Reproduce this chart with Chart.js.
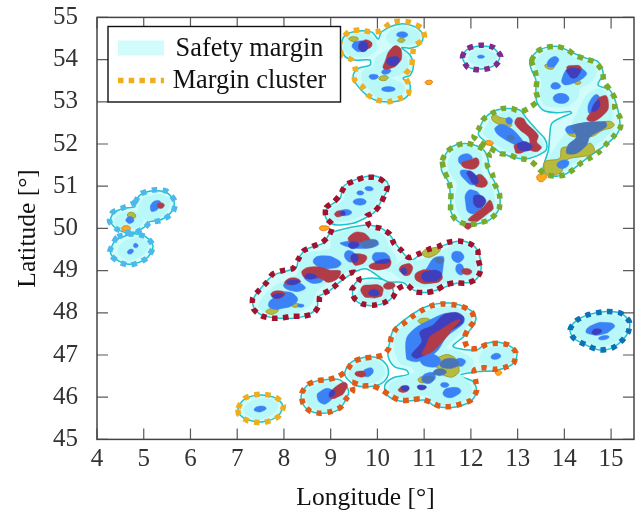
<!DOCTYPE html>
<html>
<head>
<meta charset="utf-8">
<style>html,body{margin:0;background:#fff}canvas{display:block}</style>
<script src="https://cdn.jsdelivr.net/npm/chart.js@4/dist/chart.umd.min.js"></script>
</head>
<body>
<canvas id="mapChart" width="636" height="515"></canvas>
<script>
// all shapes are [longitude, latitude]
var xTicks = [4, 5, 6, 7, 8, 9, 10, 11, 12, 13, 14, 15];
var yTicks = [45, 46, 47, 48, 49, 50, 51, 52, 53, 54, 55];
var legendLabels = ['Safety margin', 'Margin cluster'];

var safetyOutlines = [
  [[4.81,50.59],[4.92,50.79],[5.2,50.89],[5.49,50.85],[5.65,50.63],[5.6,50.4],[5.38,50.21],[5.13,50.16],[5.03,50.04],[4.78,49.9],[4.46,49.96],[4.29,50.16],[4.35,50.36],[4.56,50.47],[4.81,50.51]],
  [[4.46,49.76],[4.78,49.87],[5.06,49.79],[5.2,49.57],[5.06,49.29],[4.71,49.15],[4.46,49.23],[4.29,49.41],[4.35,49.65]],
  [[9.22,54.31],[9.31,54.58],[9.59,54.68],[9.88,54.65],[10.02,54.49],[10.09,54.66],[10.45,54.84],[10.8,54.78],[10.98,54.58],[10.91,54.36],[10.7,54.27],[10.52,54.28],[10.7,54.11],[10.77,53.87],[10.7,53.63],[10.55,53.56],[10.7,53.4],[10.66,53.16],[10.45,53.02],[10.02,53.02],[9.77,53.16],[9.56,53.4],[9.48,53.63],[9.59,53.79],[9.84,53.87],[9.84,53.99],[9.52,53.99],[9.31,54.07]],
  [[11.82,54.05],[11.91,54.23],[12.19,54.32],[12.48,54.27],[12.62,54.07],[12.51,53.87],[12.23,53.78],[11.94,53.83]],
  [[13.26,53.95],[13.41,54.19],[13.62,54.29],[13.87,54.31],[14.12,54.19],[14.48,54.03],[14.72,53.95],[14.83,53.67],[14.72,53.4],[14.97,53.28],[15.12,52.92],[15.19,52.41],[15.08,52.17],[14.83,51.94],[14.48,51.66],[14.05,51.3],[13.76,51.24],[13.55,51.38],[13.58,51.58],[13.66,51.86],[13.69,52.25],[13.73,52.49],[13.94,52.63],[14.15,52.73],[14.12,52.77],[13.83,52.74],[13.55,52.8],[13.41,53],[13.39,53.24],[13.39,53.52],[13.3,53.75]],
  [[12.16,52.25],[12.27,52.57],[12.48,52.77],[12.76,52.84],[13.05,52.8],[13.19,52.61],[13.41,52.33],[13.58,52.13],[13.63,51.94],[13.58,51.82],[13.26,51.66],[13.01,51.66],[12.66,51.78],[12.41,51.98],[12.19,52.17]],
  [[11.41,51.62],[11.52,51.86],[11.69,51.98],[11.98,52],[12.27,51.86],[12.37,51.62],[12.37,51.38],[12.52,51.07],[12.62,50.75],[12.59,50.44],[12.4,50.2],[12.12,50.1],[11.91,50.06],[11.69,50.2],[11.57,50.4],[11.57,50.67],[11.52,51.1],[11.37,51.38]],
  [[8.88,50.36],[8.95,50.51],[9.2,50.71],[9.27,50.99],[9.52,51.15],[9.91,51.25],[10.2,51.11],[10.23,50.95],[10.09,50.67],[9.95,50.4],[9.73,50.24],[9.48,50.12],[9.13,50.08],[8.95,50.16]],
  [[8.99,49.88],[9.41,50.02],[9.81,50.08],[10.09,50],[10.27,49.84],[10.41,49.61],[10.59,49.37],[10.73,49.25],[10.95,49.41],[11.34,49.57],[11.77,49.7],[12.05,49.6],[12.18,49.37],[12.21,48.97],[12.05,48.74],[11.69,48.7],[11.27,48.54],[10.98,48.48],[10.7,48.58],[10.55,48.72],[10.2,48.74],[9.77,49.04],[9.52,48.97],[9.16,48.7],[8.95,48.5],[8.74,48.38],[8.7,48.1],[8.41,47.91],[7.95,47.87],[7.52,47.95],[7.35,48.14],[7.35,48.34],[7.49,48.56],[7.77,48.89],[8.06,48.99],[8.27,49.09],[8.31,49.29],[8.49,49.51],[8.84,49.65]],
  [[9.48,48.58],[9.56,48.74],[9.81,48.82],[10.13,48.78],[10.3,48.62],[10.34,48.42],[10.2,48.26],[9.91,48.17],[9.63,48.22],[9.48,48.38]],
  [[7.02,45.74],[7.17,45.96],[7.49,46.05],[7.81,45.99],[7.97,45.81],[7.88,45.56],[7.56,45.42],[7.24,45.46],[7.06,45.58]],
  [[8.38,46.09],[8.56,46.33],[8.84,46.41],[9.2,46.41],[9.38,46.17],[9.34,45.97],[9.16,45.7],[8.84,45.62],[8.56,45.67],[8.4,45.85]],
  [[9.3,46.53],[9.41,46.8],[9.7,46.94],[9.98,46.94],[10.2,46.76],[10.23,46.53],[10.09,46.33],[9.8,46.25],[9.52,46.29]],
  [[10.25,47.24],[10.34,47.59],[10.62,47.87],[11.05,48.15],[11.55,48.23],[11.98,48.07],[12.11,47.87],[12.01,47.63],[11.84,47.43],[11.62,47.2],[12.12,47.12],[12.34,47.28],[12.69,47.28],[12.98,47.08],[12.91,46.8],[12.55,46.64],[12.12,46.6],[11.76,46.51],[12.05,46.37],[12.12,46.13],[11.98,45.89],[11.55,45.75],[11.19,45.81],[11.05,45.93],[10.48,45.91],[10.2,46.05],[10.16,46.29],[10.34,46.46],[10.66,46.54],[10.62,46.64],[10.37,46.72],[10.23,46.96]],
  [[14.12,47.59],[14.25,47.81],[14.53,47.96],[14.89,48.03],[15.21,47.99],[15.39,47.79],[15.37,47.55],[15.25,47.36],[15.03,47.17],[14.75,47.12],[14.46,47.24],[14.21,47.39]]
];

var innerMargins = [
  [[4.92,50.59],[5.2,50.79],[5.49,50.75],[5.56,50.59],[5.45,50.36],[5.2,50.21],[4.96,50.28]],
  [[4.42,50.28],[4.67,50.4],[4.92,50.36],[4.99,50.16],[4.78,50],[4.53,50],[4.38,50.12]],
  [[4.46,49.53],[4.74,49.76],[5.03,49.72],[5.08,49.53],[4.85,49.29],[4.56,49.29]],
  [[9.27,54.35],[9.45,54.57],[9.8,54.58],[9.98,54.39],[9.91,54.15],[9.59,54.07],[9.34,54.15]],
  [[10.2,54.58],[10.45,54.76],[10.77,54.72],[10.91,54.54],[10.8,54.38],[10.52,54.36],[10.27,54.39]],
  [[9.95,54.03],[10.23,54.23],[10.52,54.19],[10.66,53.91],[10.55,53.67],[10.3,53.56],[10.52,53.44],[10.59,53.28],[10.38,53.08],[10.02,53.08],[9.84,53.28],[9.66,53.52],[9.7,53.75],[9.91,53.83]],
  [[11.94,54.05],[12.19,54.24],[12.48,54.16],[12.55,54.05],[12.41,53.91],[12.12,53.87]],
  [[13.37,53.95],[13.62,54.21],[13.94,54.21],[14.26,54.03],[14.62,53.87],[14.69,53.67],[14.55,53.44],[14.33,53.32],[14.3,53.12],[14.12,52.92],[13.87,52.87],[13.58,52.92],[13.48,53.16],[13.51,53.48],[13.41,53.71]],
  [[14.3,52.8],[14.48,53.16],[14.76,53.32],[14.97,53.08],[15.03,52.57],[15.03,52.33],[14.69,51.98],[14.33,51.66],[13.98,51.34],[13.73,51.34],[13.62,51.54],[13.8,51.9],[14.12,52.41]],
  [[12.27,52.25],[12.44,52.61],[12.76,52.77],[13.05,52.73],[13.26,52.41],[13.51,52.09],[13.55,51.94],[13.33,51.74],[13.01,51.71],[12.66,51.9],[12.41,52.09]],
  [[11.52,51.62],[11.69,51.9],[11.98,51.94],[12.23,51.74],[12.23,51.38],[12.44,50.99],[12.51,50.59],[12.34,50.28],[11.95,50.14],[11.76,50.3],[11.66,50.67],[11.7,51.07],[11.52,51.38]],
  [[8.99,50.44],[9.27,50.67],[9.34,50.95],[9.7,51.11],[10.13,51.11],[10.16,50.95],[10.02,50.71],[9.88,50.47],[9.63,50.28],[9.27,50.16],[8.99,50.24]],
  [[7.45,48.18],[7.77,48.62],[8.27,48.9],[8.41,49.37],[8.99,49.53],[9.02,49.8],[9.41,49.96],[9.84,50],[10.13,49.84],[10.27,49.53],[10.41,49.29],[10.27,48.97],[9.98,49.13],[9.56,49.05],[9.13,48.86],[8.7,48.5],[8.56,48.18],[8.13,47.95],[7.63,47.99]],
  [[10.3,49.01],[10.55,49.25],[10.91,49.25],[11.34,49.45],[11.77,49.65],[12.05,49.45],[12.12,49.05],[12.02,48.82],[11.62,48.78],[11.2,48.62],[10.84,48.62],[10.48,48.82]],
  [[9.59,48.5],[9.81,48.74],[10.13,48.7],[10.27,48.5],[10.13,48.3],[9.84,48.22],[9.59,48.3]],
  [[7.14,45.74],[7.31,45.91],[7.56,45.97],[7.81,45.91],[7.88,45.78],[7.74,45.58],[7.45,45.48],[7.2,45.58]],
  [[8.45,46.05],[8.63,46.27],[8.98,46.35],[9.23,46.29],[9.3,46.13],[9.16,45.77],[8.84,45.67],[8.56,45.77]],
  [[9.38,46.53],[9.52,46.76],[9.77,46.88],[10.05,46.84],[10.16,46.6],[10.02,46.38],[9.77,46.33],[9.52,46.35]],
  [[10.37,47.12],[10.41,47.51],[10.69,47.79],[11.12,48.07],[11.59,48.15],[11.94,47.99],[12.01,47.83],[11.84,47.59],[11.62,47.36],[11.48,47.16],[11.76,47.08],[12.05,46.88],[11.98,46.64],[11.76,46.56],[11.98,46.33],[12.01,46.09],[11.8,45.89],[11.48,45.81],[11.19,45.89],[11.05,46.05],[10.62,45.97],[10.3,46.09],[10.25,46.29],[10.48,46.45],[10.8,46.59],[10.7,46.72],[10.48,46.8]],
  [[12.19,46.96],[12.37,47.16],[12.69,47.2],[12.91,47.04],[12.8,46.8],[12.48,46.72],[12.26,46.76]],
  [[14.21,47.63],[14.39,47.83],[14.75,47.93],[15.17,47.91],[15.32,47.71],[15.28,47.51],[15.03,47.28],[14.75,47.2],[14.46,47.32],[14.25,47.47]]
];

var orangeZones = [
  [[11.02,53.45],[11.09,53.51],[11.18,53.48],[11.12,53.41]],
  [[13.41,51.21],[13.48,51.29],[13.62,51.27],[13.58,51.15],[13.48,51.11]],
  [[12.3,52.02],[12.37,52.08],[12.48,52.02],[12.41,51.97]],
  [[8.76,50.02],[8.84,50.06],[8.97,50.02],[8.9,49.96],[8.79,49.96]],
  [[12.52,46.59],[12.58,46.64],[12.66,46.58],[12.58,46.52]],
  [[4.53,50],[4.6,50.06],[4.71,50.02],[4.67,49.95],[4.56,49.95]]
];

var oliveZones = [
  [[4.65,50.32],[4.74,50.38],[4.83,50.29],[4.74,50.24]],
  [[9.39,54.5],[9.51,54.54],[9.59,54.49],[9.48,54.43]],
  [[10.43,54.46],[10.52,54.5],[10.59,54.46],[10.5,54.41]],
  [[10.03,53.56],[10.16,53.62],[10.23,53.57],[10.13,53.5]],
  [[13.58,53.85],[13.68,53.9],[13.78,53.83],[13.71,53.77]],
  [[14.2,53.48],[14.28,53.52],[14.35,53.46],[14.28,53.41]],
  [[13.58,51.58],[13.9,51.66],[13.94,51.9],[14.08,51.92],[14.05,51.78],[14.26,51.78],[14.55,52.02],[14.65,51.82],[14.48,51.72],[14.12,51.66],[13.98,51.54],[13.94,51.34],[13.69,51.24],[13.58,51.34]],
  [[14.87,52.53],[15.05,52.49],[15.03,52.4],[14.83,52.33],[14.55,52.17],[14.15,52.19],[14.08,52.29]],
  [[12.44,52.63],[12.51,52.69],[12.62,52.63],[12.8,52.57],[12.87,52.43],[12.73,52.45],[12.55,52.49]],
  [[7.62,48.04],[7.74,48.1],[7.88,48.07],[7.77,47.97],[7.65,47.99]],
  [[8.17,48.18],[8.24,48.23],[8.33,48.18],[8.24,48.13]],
  [[10.98,49.46],[11.2,49.54],[11.35,49.53],[11.23,49.37],[11.02,49.33]],
  [[11.16,46.8],[11.34,46.96],[11.59,46.98],[11.73,46.76],[11.69,46.53],[11.44,46.51],[11.3,46.68]],
  [[10.87,46.41],[10.97,46.49],[11.05,46.43],[10.97,46.34]],
  [[10.87,47.8],[10.98,47.87],[11.12,47.83],[11.02,47.74]]
];

var blueZones = [
  [[5.15,50.43],[5.17,50.59],[5.31,50.66],[5.36,50.61],[5.31,50.47],[5.2,50.4]],
  [[4.62,50.21],[4.71,50.28],[4.79,50.2],[4.72,50.12],[4.65,50.14]],
  [[4.65,49.45],[4.74,49.51],[4.78,49.45],[4.69,49.39]],
  [[4.78,49.6],[4.83,49.65],[4.88,49.58],[4.82,49.54]],
  [[9.46,54.35],[9.59,54.44],[9.77,54.39],[9.8,54.27],[9.66,54.19],[9.52,54.23]],
  [[10.41,54.6],[10.55,54.66],[10.65,54.58],[10.52,54.52]],
  [[10.09,53.71],[10.2,53.78],[10.29,53.73],[10.16,53.65]],
  [[9.82,53.6],[9.91,53.65],[10.02,53.6],[9.91,53.53]],
  [[10.09,53.3],[10.23,53.36],[10.38,53.3],[10.23,53.24]],
  [[12.14,54.07],[12.21,54.11],[12.29,54.07],[12.21,54.03]],
  [[13.63,53.87],[13.73,54.05],[13.87,54.03],[13.83,53.89],[13.73,53.82]],
  [[13.94,53.48],[14.01,53.71],[14.12,53.83],[14.37,53.79],[14.48,53.67],[14.4,53.56],[14.19,53.44],[14.01,53.4]],
  [[13.71,53.37],[13.8,53.46],[13.92,53.37],[13.8,53.3]],
  [[13.76,53.08],[13.92,53.2],[14.1,53.08],[13.94,52.96]],
  [[14.51,52.77],[14.58,53.08],[14.72,53.16],[14.76,52.88],[14.62,52.73]],
  [[14.03,52.37],[14.19,52.45],[14.55,52.49],[14.3,52.3],[14.1,52.25]],
  [[13.84,51.5],[13.98,51.62],[14.1,51.56],[13.98,51.42]],
  [[12.51,52.37],[12.66,52.47],[12.91,52.33],[13.19,51.98],[13.3,51.9],[13.19,51.84],[12.94,51.98],[12.59,52.21]],
  [[12.75,52.58],[12.83,52.63],[12.89,52.53],[12.8,52.47]],
  [[11.73,51.62],[11.84,51.76],[12.02,51.71],[11.98,51.58],[11.84,51.5]],
  [[11.77,51.34],[11.91,51.38],[12.05,51.3],[12.18,51.1],[12.05,51.03],[11.91,51.11]],
  [[11.92,50.87],[12.09,50.89],[12.23,50.75],[12.3,50.67],[12.19,50.44],[11.98,50.36],[11.89,50.59]],
  [[9.73,50.95],[9.83,50.99],[9.91,50.93],[9.81,50.89]],
  [[9.56,50.85],[9.64,50.89],[9.71,50.83],[9.61,50.79]],
  [[9.48,50.63],[9.63,50.71],[9.76,50.63],[9.63,50.55]],
  [[9.16,50.36],[9.31,50.45],[9.45,50.38],[9.31,50.3]],
  [[9.2,49.65],[9.38,49.7],[9.56,49.76],[9.98,49.72],[10.02,49.61],[9.81,49.53],[9.52,49.53],[9.34,49.57]],
  [[9.31,49.43],[9.45,49.46],[9.52,49.33],[9.48,49.21],[9.34,49.25]],
  [[9.9,49.37],[10.05,49.43],[10.23,49.37],[10.25,49.21],[10.05,49.17],[9.95,49.19]],
  [[8.63,49.25],[8.84,49.35],[9.16,49.25],[9.21,49.13],[8.99,49.05],[8.74,49.09]],
  [[8.45,48.85],[8.77,48.85],[8.84,48.78],[8.7,48.7],[8.52,48.74]],
  [[7.99,48.66],[8.2,48.74],[8.45,48.62],[8.41,48.54],[8.17,48.52]],
  [[7.67,48.22],[7.84,48.4],[8.02,48.5],[8.27,48.38],[8.24,48.22],[7.95,48.1],[7.74,48.1]],
  [[8.29,48.18],[8.36,48.21],[8.43,48.17],[8.34,48.13]],
  [[10.84,48.94],[11.02,49.01],[11.2,49.29],[11.41,49.33],[11.41,49.13],[11.34,48.78],[11.12,48.7],[10.91,48.74]],
  [[11.59,49.37],[11.69,49.46],[11.84,49.37],[11.8,49.23],[11.66,49.21]],
  [[11.68,49.09],[11.77,49.16],[11.85,49.05],[11.85,48.93],[11.73,48.92]],
  [[7.36,45.71],[7.49,45.79],[7.62,45.74],[7.52,45.66],[7.42,45.66]],
  [[8.71,46.01],[8.77,46.13],[8.98,46.2],[9.05,46.05],[8.95,45.88],[8.81,45.85]],
  [[9.68,46.57],[9.78,46.68],[9.9,46.67],[9.87,46.53],[9.73,46.49]],
  [[10.62,46.92],[10.62,47.39],[10.8,47.63],[11.12,47.83],[11.48,47.99],[11.84,47.91],[11.84,47.75],[11.48,47.43],[11.3,47.12],[11.12,46.96],[10.84,46.84],[10.66,46.88]],
  [[10.91,46.88],[11.05,47],[11.27,46.98],[11.34,46.8],[11.09,46.72]],
  [[11.69,46.9],[11.87,46.88],[11.84,46.76],[11.73,46.75]],
  [[10.95,46.45],[11.09,46.58],[11.23,46.53],[11.19,46.38],[11.02,46.33]],
  [[11.35,46.3],[11.44,46.35],[11.53,46.29],[11.43,46.23]],
  [[11.41,46.13],[11.59,46.23],[11.78,46.17],[11.69,46.04],[11.48,46]],
  [[12.43,46.94],[12.53,47.04],[12.64,46.98],[12.55,46.9]],
  [[14.46,47.57],[14.64,47.73],[14.89,47.77],[15.07,47.71],[15,47.59],[14.82,47.49],[14.57,47.49]],
  [[14.73,47.39],[14.85,47.46],[14.96,47.43],[14.85,47.36]]
];

var redZones = [
  [[5.29,50.55],[5.36,50.61],[5.44,50.55],[5.36,50.47]],
  [[9.7,54.44],[9.84,54.44],[9.88,54.33],[9.77,54.27]],
  [[10.16,53.95],[10.3,54.27],[10.45,54.31],[10.52,54.11],[10.45,53.91],[10.27,53.79],[10.13,53.79]],
  [[14.05,53.82],[14.19,53.86],[14.35,53.83],[14.33,53.71],[14.15,53.71]],
  [[14.48,52.61],[14.62,52.84],[14.72,53.08],[14.9,53.14],[14.94,52.84],[14.8,52.65],[14.62,52.53],[14.51,52.55]],
  [[12.94,52.49],[12.99,52.62],[13.13,52.6],[13.19,52.49],[13.44,52.21],[13.41,52.05],[13.51,51.92],[13.41,51.82],[13.23,51.87],[13.16,51.94],[13.26,52.01],[13.23,52.17],[13.05,52.33]],
  [[12.94,51.98],[13.12,52.01],[13.3,51.9],[13.19,51.84],[12.99,51.78],[12.94,51.87]],
  [[11.8,51.54],[11.98,51.62],[12.14,51.66],[12.14,51.46],[11.91,51.42]],
  [[12.14,51.27],[12.27,51.23],[12.34,51.03],[12.12,50.99],[12.09,51.11]],
  [[12.41,50.67],[12.48,50.47],[12.37,50.36],[12.23,50.24],[12.12,50.16],[11.94,50.2],[12.09,50.36],[12.27,50.51]],
  [[11.84,50.1],[12.02,50.1],[11.94,49.98]],
  [[9.09,50.36],[9.2,50.42],[9.28,50.36],[9.2,50.28],[9.11,50.29]],
  [[9.38,49.72],[9.45,49.86],[9.63,49.91],[9.81,49.8],[9.81,49.7],[9.56,49.67]],
  [[9.45,49.35],[9.73,49.37],[9.76,49.25],[9.59,49.13],[9.48,49.17]],
  [[9.83,49.13],[10.05,49.21],[10.25,49.27],[10.28,49.13],[10.16,49.04],[9.88,49.04]],
  [[8.38,48.97],[8.49,49.07],[8.74,49.09],[8.99,49.01],[9.21,48.99],[9.16,48.82],[8.95,48.72],[8.77,48.82],[8.45,48.82]],
  [[8.02,48.74],[8.2,48.83],[8.36,48.74],[8.24,48.7],[8.06,48.67]],
  [[7.72,48.42],[7.84,48.52],[8.02,48.46],[7.88,48.34]],
  [[10.47,49.05],[10.59,49.15],[10.73,49.13],[10.73,48.97],[10.63,48.88],[10.52,48.94]],
  [[10.8,48.86],[10.91,48.99],[11.09,49.01],[11.34,48.93],[11.37,48.78],[11.12,48.7],[10.91,48.72]],
  [[11.8,49],[11.92,49.05],[12.02,48.97],[11.91,48.9]],
  [[9.66,48.6],[9.84,48.66],[10.09,48.62],[10.11,48.46],[10.05,48.38],[9.81,48.36],[9.7,48.41]],
  [[10.13,48.62],[10.23,48.72],[10.38,48.66],[10.27,48.56]],
  [[8.97,46.05],[9.16,46.29],[9.34,46.33],[9.3,46.13],[9.16,46.01],[9.02,45.97]],
  [[9.52,46.57],[9.64,46.62],[9.73,46.59],[9.73,46.5],[9.59,46.49]],
  [[10.45,46.19],[10.55,46.25],[10.67,46.21],[10.62,46.13],[10.48,46.13]]
];

var steelZones = [
  [[14.15,52.43],[14.87,52.53],[14.9,52.41],[14.55,52.17],[14.48,51.98],[14.26,51.78],[14.05,51.78],[14.08,51.98],[14.26,52.17]],
  [[12.78,52.16],[12.86,52.21],[12.93,52.14],[12.86,52.08]],
  [[9.66,49.67],[9.81,49.72],[10,49.7],[9.95,49.59],[9.77,49.54],[9.66,49.59]],
  [[11.23,49.25],[11.32,49.31],[11.42,49.25],[11.34,49.16]],
  [[11.34,46.8],[11.52,46.92],[11.73,46.84],[11.69,46.72],[11.41,46.7]],
  [[11.19,46.59],[11.3,46.67],[11.47,46.62],[11.41,46.53],[11.23,46.53]],
  [[10.96,46.43],[11.09,46.5],[11.21,46.45],[11.09,46.35]]
];

var darkZones = [
  [[9.6,54.35],[9.7,54.44],[9.79,54.36],[9.77,54.23],[9.65,54.2]],
  [[10.2,53.99],[10.34,54.07],[10.46,54.03],[10.43,53.91],[10.27,53.86]],
  [[14.06,53.77],[14.33,53.77],[14.3,53.63],[14.19,53.56],[14.1,53.63]],
  [[14.58,52.8],[14.72,53.04],[14.76,52.92],[14.65,52.77]],
  [[12.99,51.94],[13.08,52.05],[13.26,52.01],[13.3,51.9],[13.12,51.84]],
  [[11.92,51.34],[12.05,51.32],[12.16,51.11],[12.07,51.05],[11.97,51.19]],
  [[12.05,50.71],[12.12,50.79],[12.3,50.71],[12.28,50.55],[12.12,50.51]],
  [[9.21,50.37],[9.28,50.41],[9.31,50.33],[9.23,50.32]],
  [[9.4,49.65],[9.56,49.67],[9.61,49.61],[9.52,49.53],[9.41,49.54]],
  [[9.45,49.37],[9.57,49.37],[9.56,49.21],[9.47,49.21]],
  [[9.95,49.21],[10.23,49.27],[10.25,49.2],[10.02,49.17]],
  [[8.45,48.88],[8.56,48.93],[8.7,48.85],[8.52,48.8]],
  [[8.06,48.74],[8.24,48.78],[8.34,48.74],[8.17,48.66]],
  [[7.75,48.41],[7.95,48.46],[7.99,48.42],[7.84,48.34]],
  [[10.5,49.01],[10.57,49.07],[10.63,48.97],[10.57,48.91]],
  [[10.95,48.9],[11.09,48.99],[11.34,48.97],[11.34,48.82],[11.12,48.74],[10.98,48.78]],
  [[9.81,48.46],[9.91,48.56],[10.04,48.46],[9.91,48.4]],
  [[8.97,46.09],[9.05,46.17],[9.09,46.09],[9,46.01]],
  [[10.95,47.32],[10.91,47.55],[11.19,47.71],[11.41,47.95],[11.69,48.01],[11.84,47.91],[11.82,47.75],[11.52,47.55],[11.27,47.35],[11.12,47.08],[10.84,46.92],[10.73,47],[10.84,47.16]],
  [[10.5,46.23],[10.59,46.28],[10.68,46.23],[10.61,46.15]],
  [[10.85,46.25],[10.94,46.29],[11.05,46.24],[10.94,46.17]],
  [[14.59,47.55],[14.69,47.62],[14.8,47.57],[14.71,47.49],[14.62,47.49]]
];

// second red, drawn over the blue of the main southern blob
var redOverlays = [
  [[11.12,47.43],[11.34,47.59],[11.62,47.79],[11.77,47.83],[11.62,47.63],[11.48,47.43],[11.3,47.2],[11.12,47.04],[10.95,47.01],[11.05,47.24]]
];

var clusterPaths = [
  [[4.81,50.62],[4.92,50.81],[5.2,50.91],[5.49,50.88],[5.67,50.63],[5.62,50.38],[5.38,50.19],[5.13,50.14],[5.03,50.02],[4.78,49.9],[4.46,49.96],[4.27,50.16],[4.33,50.38],[4.56,50.49]],
  [[4.44,49.8],[4.78,49.87],[5.06,49.79],[5.2,49.57],[5.06,49.29],[4.71,49.13],[4.46,49.21],[4.27,49.41],[4.35,49.65]],
  [[9.25,54.09],[9.19,54.38],[9.39,54.66],[9.63,54.7],[9.84,54.66],[10.07,54.68],[10.27,54.86],[10.45,54.91],[10.7,54.88],[10.96,54.73],[11,54.49],[10.79,54.32],[10.75,54.07],[10.73,53.83],[10.59,53.63],[10.67,53.41],[10.66,53.18],[10.46,53.07],[10.23,53],[10,53.04],[9.8,53.16],[9.68,53.36],[9.51,53.52],[9.53,53.75],[9.46,53.99]],
  [[11.82,54.05],[11.91,54.25],[12.19,54.34],[12.48,54.29],[12.64,54.07],[12.51,53.85],[12.23,53.76],[11.94,53.81]],
  [[13.3,53.97],[13.42,54.19],[13.62,54.29],[13.85,54.31],[14.07,54.23],[14.25,54.09],[14.48,54.01],[14.67,53.93],[14.81,53.73],[14.85,53.48],[14.97,53.29],[15.08,53.08],[15.08,52.84],[15.19,52.63],[15.2,52.4],[15.06,52.19],[14.9,52],[14.75,51.82],[14.57,51.68],[14.37,51.56],[14.2,51.4],[14.01,51.27],[13.78,51.24],[13.57,51.29],[13.42,51.46],[13.25,51.62],[13.01,51.66],[12.81,51.75],[12.61,51.78],[12.07,52.16],[12.17,52.36],[12.27,52.59],[12.46,52.73],[12.66,52.84],[12.87,52.84],[13.08,52.77],[13.26,52.87],[13.43,53.03],[13.39,53.26],[13.41,53.5],[13.37,53.75]],
  [[11.39,51.61],[11.49,51.82],[11.68,51.96],[11.9,52.02],[12.23,51.9],[12.39,51.73],[12.35,51.5],[12.46,51.28],[12.5,51.07],[12.61,50.82],[12.6,50.45],[12.4,50.21],[12.14,50.12],[11.93,50.09],[11.68,50.2],[11.57,50.4],[11.57,50.64],[11.57,50.9],[11.52,51.13],[11.43,51.36]],
  [[8.9,50.49],[9.07,50.63],[9.21,50.81],[9.32,51.03],[9.52,51.13],[9.73,51.21],[10.02,51.19],[10.21,51.01],[10.15,50.78],[10.05,50.55],[9.91,50.37],[9.76,50.28],[9.84,50.06],[10.07,50],[10.27,49.86],[10.35,49.65],[10.52,49.47],[10.67,49.31],[10.87,49.39],[11.09,49.5],[11.3,49.57],[11.5,49.67],[11.73,49.7],[11.96,49.65],[12.14,49.5],[12.16,49.25],[12.21,49.01],[12.1,48.79],[11.89,48.7],[11.66,48.71],[11.45,48.66],[11.25,48.53],[11.03,48.48],[10.8,48.5],[10.63,48.66],[10.43,48.56],[10.33,48.37],[10.14,48.24],[9.91,48.18],[9.68,48.21],[9.51,48.34],[9.45,48.54],[9.61,48.78],[9.51,48.96],[9.29,48.87],[9.14,48.68],[8.97,48.53],[8.77,48.4],[8.75,48.18],[8.63,47.99],[8.41,47.92],[8.19,47.92],[7.97,47.88],[7.74,47.87],[7.52,47.93],[7.35,48.09],[7.33,48.34],[7.47,48.54],[7.63,48.72],[7.76,48.92],[7.97,49],[8.19,49.05],[8.31,49.27],[8.41,49.46],[8.61,49.57],[8.82,49.67],[8.97,49.84],[9.04,50.08],[8.9,50.25]],
  [[7.02,45.74],[7.17,45.98],[7.49,46.07],[7.81,46.01],[7.99,45.81],[7.88,45.54],[7.56,45.4],[7.24,45.44],[7.04,45.58]],
  [[8.38,46.09],[8.51,46.3],[8.72,46.39],[8.95,46.42],[9.16,46.49],[9.35,46.64],[9.47,46.83],[9.68,46.92],[9.91,46.95],[10.12,47],[10.25,47.17],[10.3,47.43],[10.41,47.63],[10.59,47.77],[10.77,47.93],[10.97,48.07],[11.17,48.17],[11.39,48.21],[11.62,48.19],[11.81,48.15],[12.01,48.03],[12.07,47.81],[11.94,47.61],[11.86,47.4],[11.94,47.16],[12.16,47.16],[12.34,47.25],[12.57,47.28],[12.8,47.24],[12.96,47.06],[12.91,46.8],[12.71,46.7],[12.5,46.66],[12.28,46.7],[12.07,46.64],[12.1,46.41],[12.12,46.15],[12,45.93],[11.79,45.84],[11.57,45.78],[11.35,45.78],[11.14,45.88],[10.93,45.96],[10.7,45.93],[10.47,45.93],[10.27,46.04],[10.1,46.17],[9.89,46.27],[9.66,46.27],[9.45,46.35],[9.47,46.15],[9.33,45.96],[9.21,45.76],[9,45.66],[8.77,45.62],[8.56,45.67],[8.41,45.85]],
  [[14.12,47.59],[14.25,47.81],[14.53,47.96],[14.89,48.03],[15.21,47.99],[15.39,47.79],[15.37,47.55],[15.25,47.36],[15.03,47.17],[14.75,47.12],[14.46,47.24],[14.21,47.39]]
];
var clusterColors = ['#4db8ec', '#4db8ec', '#f0ae1e', '#7f2a8c', '#7aaa2c', '#7aaa2c', '#a2122e', '#f0ae1e', '#e05a18', '#0a72b8'];

var serif = 'Liberation Serif';

// one dataset for each closed shape, long outlines get less curve so they do not wobble
function shape(points, fillColor, lineColor, lineWidth) {
  return {
    data: points,
    showLine: true,
    fill: 'shape',
    backgroundColor: fillColor,
    borderColor: lineColor || fillColor,
    borderWidth: lineWidth === undefined ? 0.5 : lineWidth,
    tension: points.length > 7 ? 0.3 : 0.55,
    pointRadius: 0,
    pointHoverRadius: 0
  };
}

var layers = [];
safetyOutlines.forEach(function (p) { layers.push(shape(p, '#d2fcfc', '#1cc4cc', 1.5)); });
innerMargins.forEach(function (p) { layers.push(shape(p, '#b8f8f8')); });
orangeZones.forEach(function (p) { layers.push(shape(p, '#fba91c', '#ee7d10', 1)); });
oliveZones.forEach(function (p) { layers.push(shape(p, '#b6bb3e', '#a39a30', 1)); });
blueZones.forEach(function (p) { layers.push(shape(p, '#3b82f6')); });
redZones.forEach(function (p) { layers.push(shape(p, '#b13c48')); });
steelZones.forEach(function (p) { layers.push(shape(p, '#4a74b4')); });
darkZones.forEach(function (p) { layers.push(shape(p, '#3f3fbd')); });
redOverlays.forEach(function (p) { layers.push(shape(p, '#b13c48')); });
clusterPaths.forEach(function (p, i) {
  var d = shape(p, 'transparent', clusterColors[i], 5.5);
  d.fill = false;
  d.borderDash = [5.5, 5.5];
  d.tension = 0.25;
  layers.push(d);
});

// scatter lines do not close by themselves
var closeShapes = {
  id: 'closeShapes',
  afterDatasetUpdate: function (chart, args) {
    var line = args.meta.dataset;
    if (line) { line._loop = true; line._fullLoop = true; }
  }
};

// frame, inward ticks on all four sides and the legend box
var frameAndLegend = {
  id: 'frameAndLegend',
  afterDatasetsDraw: function (chart) {
    var c = chart.ctx, a = chart.chartArea, tick = 11;
    c.save();
    c.strokeStyle = '#5a5a5a';
    c.lineWidth = 1.2;
    xTicks.forEach(function (v) {
      var x = chart.scales.x.getPixelForValue(v);
      c.beginPath();
      c.moveTo(x, a.top); c.lineTo(x, a.top + tick);
      c.moveTo(x, a.bottom); c.lineTo(x, a.bottom - tick);
      c.stroke();
    });
    yTicks.forEach(function (v) {
      var y = chart.scales.y.getPixelForValue(v);
      c.beginPath();
      c.moveTo(a.left, y); c.lineTo(a.left + tick, y);
      c.moveTo(a.right, y); c.lineTo(a.right - tick, y);
      c.stroke();
    });
    c.strokeStyle = '#444';
    c.lineWidth = 1.5;
    c.strokeRect(a.left, a.top, a.right - a.left, a.bottom - a.top);

    c.fillStyle = '#fff';
    c.fillRect(108, 26.5, 232.5, 75.5);
    c.strokeStyle = '#111';
    c.lineWidth = 1.4;
    c.strokeRect(108, 26.5, 232.5, 75.5);
    c.fillStyle = '#d2fcfc';
    c.fillRect(118, 40.5, 46, 15);
    c.strokeStyle = '#f0ae1e';
    c.lineWidth = 5.5;
    c.setLineDash([5.5, 5.2]);
    c.beginPath();
    c.moveTo(118, 80.5); c.lineTo(164, 80.5);
    c.stroke();
    c.setLineDash([]);
    c.fillStyle = '#111';
    c.font = '26.3px "' + serif + '"';
    c.textAlign = 'center';
    c.textBaseline = 'alphabetic';
    c.fillText(legendLabels[0], 249.5, 55.5);
    c.fillText(legendLabels[1], 249.5, 88);
    c.restore();
  }
};

new Chart(document.getElementById('mapChart'), {
  type: 'scatter',
  data: { datasets: layers.reverse() },
  plugins: [closeShapes, frameAndLegend],
  options: {
    responsive: false,
    animation: false,
    events: [],
    layout: { autoPadding: false, padding: { top: 17.4, right: 2, left: 0, bottom: 0 } },
    plugins: { legend: { display: false }, tooltip: { enabled: false } },
    scales: {
      x: {
        type: 'linear',
        min: 4,
        max: 15.49,
        grid: { display: false },
        border: { display: false },
        afterBuildTicks: function (s) { s.ticks = xTicks.map(function (v) { return { value: v }; }); },
        afterFit: function (s) { s.height = 75.6; s.paddingLeft = 0; s.paddingRight = 0; },
        ticks: { color: '#333', padding: -3, maxRotation: 0, autoSkip: false, font: { family: serif, size: 25 } },
        title: { display: true, text: 'Longitude [°]', color: '#111', padding: { top: 1, bottom: 1 }, font: { family: serif, size: 25.5, lineHeight: 1.2 } }
      },
      y: {
        type: 'linear',
        min: 45,
        max: 55,
        grid: { display: false },
        border: { display: false },
        afterBuildTicks: function (s) { s.ticks = yTicks.map(function (v) { return { value: v }; }); },
        afterFit: function (s) { s.width = 97; s.paddingTop = 0; s.paddingBottom = 0; },
        ticks: { color: '#333', padding: 11, autoSkip: false, font: { family: serif, size: 25 } },
        title: { display: true, text: 'Latitude [°]', color: '#111', padding: { top: 13, bottom: 13 }, font: { family: serif, size: 25.5, lineHeight: 1.2 } }
      }
    }
  }
});
</script>
</body>
</html>
